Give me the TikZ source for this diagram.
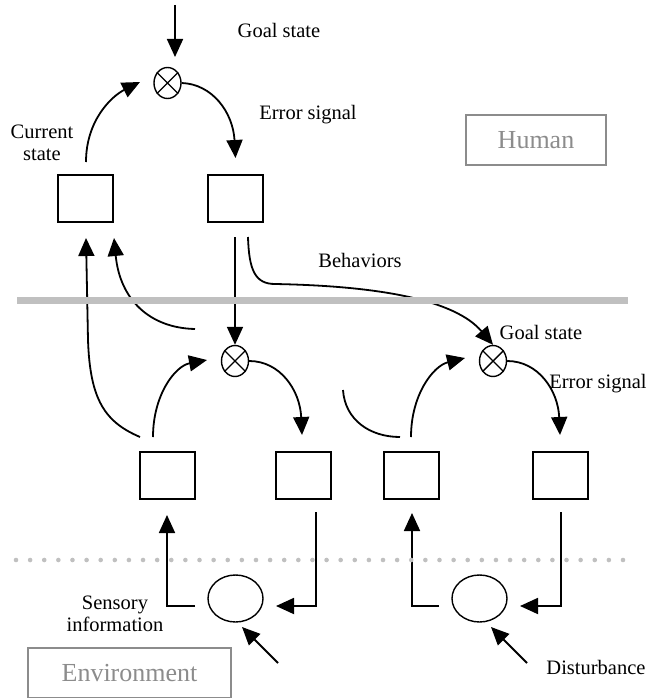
\documentclass[tikz,border=0pt]{standalone}
\usepackage{fontspec}
\setmainfont{Liberation Serif}
\usetikzlibrary{arrows.meta,shapes.geometric}
\definecolor{bargray}{RGB}{192,192,192}
\definecolor{labgray}{RGB}{140,140,140}
\begin{document}
\begin{tikzpicture}[x=1pt,y=-1pt,
  box/.style={draw,line width=1.4pt,minimum width=55pt,minimum height=47pt,inner sep=0pt},
  sum/.style={draw,ellipse,line width=1.4pt,minimum width=27pt,minimum height=31pt,inner sep=0pt},
  envnode/.style={draw,ellipse,line width=1.4pt,minimum width=55pt,minimum height=47pt,inner sep=0pt},
  arr/.style={line width=1.8pt,-{Triangle[length=18pt,width=16pt]}},
  ln/.style={line width=1.8pt},
  lbl/.style={font=\fontsize{20.5}{22}\selectfont,inner sep=0pt,align=center},
  area/.style={draw=labgray,text=labgray,line width=1.2pt,font=\fontsize{26}{30}\selectfont,inner sep=0pt},
]
\useasboundingbox (0,0) rectangle (649,698);

% ---------- nodes ----------
\node[box] (b1) at (85.5,198.5) {};
\node[box] (b2) at (235.5,198.5) {};
\node[sum] (s1) at (167.5,83) {};
\node[sum] (s2) at (235,361) {};
\node[sum] (s3) at (493,361) {};
\node[box] (b3) at (167.5,475.5) {};
\node[box] (b4) at (303.5,475.5) {};
\node[box] (b5) at (411.5,475.5) {};
\node[box] (b6) at (560.5,475.5) {};
\node[envnode] (e1) at (235.5,598.5) {};
\node[envnode] (e2) at (479.5,598.5) {};

\foreach \s in {s1,s2,s3}
  \draw[line width=1.4pt] (\s.45) -- (\s.225) (\s.135) -- (\s.315);

\node[area,minimum width=140pt,minimum height=50pt] (human) at (536,140) {Human};
\node[area,minimum width=203pt,minimum height=50pt] (envbox) at (129.5,673) {Environment};

% ---------- labels ----------
\node[lbl] (lgoal1) at (279,30) {Goal state};
\node[lbl] (lerr1) at (308,115) {Error signal};
\node[lbl] (lcur) at (42,143) {Current\\state};
\node[lbl] (lbeh) at (360,260) {Behaviors};
\node[lbl] (lgoal2) at (541,332) {Goal state};
\node[lbl] (lerr2) at (598,384) {Error signal};
\node[lbl] (lsens) at (115,614) {Sensory\\information};
\node[lbl] (ldist) at (596,667) {Disturbance};

% ---------- free ends ----------
\coordinate (gtop) at (175,5);
\coordinate (gtip) at (175,57);
\coordinate (c1a) at (86,162);
\coordinate (c1t) at (140,82);
\coordinate (c2t) at (235.5,158);
\coordinate (u1a) at (140,437);
\coordinate (u1t) at (86,238);
\coordinate (u2a) at (195,329);
\coordinate (u2t) at (114,238);
\coordinate (v1a) at (235,237);
\coordinate (bha) at (248,237);
\coordinate (m1a) at (153,437);
\coordinate (m1t) at (207,360);
\coordinate (m2t) at (302,435);
\coordinate (r1a) at (411,437);
\coordinate (r1t) at (465,358);
\coordinate (r2t) at (560,435);
\coordinate (arca) at (343,390);
\coordinate (arcb) at (400,437);
\coordinate (p1a) at (195,606);
\coordinate (p1t) at (167,515);
\coordinate (q1a) at (316,512);
\coordinate (q1t) at (276,606);
\coordinate (p2a) at (439,606);
\coordinate (p2t) at (412,513);
\coordinate (q2a) at (561,512);
\coordinate (q2t) at (520,606);
\coordinate (d1a) at (278,663);
\coordinate (d1t) at (242,627);
\coordinate (d2a) at (527,663);
\coordinate (d2t) at (491,627);

% ---------- connectors ----------
% top loop
\draw[arr] (gtop) -- (gtip);
\draw[arr] (c1a) .. controls (86,120) and (112,96) .. (c1t);
\draw[arr] (s1.east) .. controls (212,84) and (233,112) .. (c2t);

% human to machine
\draw[arr] (u1a) .. controls (105,422) and (90,400) .. (88,340) -- (u1t);
\draw[arr] (u2a) .. controls (150,328) and (120,300) .. (u2t);
\draw[arr] (v1a) -- (s2.north);
\draw[arr] (bha) .. controls (249,270) and (255,284) .. (275,284)
  .. controls (380,286) and (455,300) .. (s3.north);

% middle loops
\draw[arr] (m1a) .. controls (153,395) and (175,366) .. (m1t);
\draw[arr] (s2.east) .. controls (280,361) and (300,390) .. (m2t);
\draw[arr] (r1a) .. controls (411,395) and (433,366) .. (r1t);
\draw[arr] (s3.east) .. controls (538,361) and (558,390) .. (r2t);
\draw[ln] (arca) .. controls (345,420) and (370,437) .. (arcb);

% bottom loops
\draw[arr] (p1a) -- (p1t |- p1a) -- (p1t);
\draw[arr] (q1a) -- (q1a |- q1t) -- (q1t);
\draw[arr] (p2a) -- (p2t |- p2a) -- (p2t);
\draw[arr] (q2a) -- (q2a |- q2t) -- (q2t);
\draw[arr] (d1a) -- (d1t);
\draw[arr] (d2a) -- (d2t);

% ---------- dividers ----------
\draw[bargray,line width=7pt] (17,300) -- (628,300);
\foreach \i in {0,...,43}
  \fill[bargray] (16+\i*14.116,560) circle (2.3pt);
\end{tikzpicture}
\end{document}
